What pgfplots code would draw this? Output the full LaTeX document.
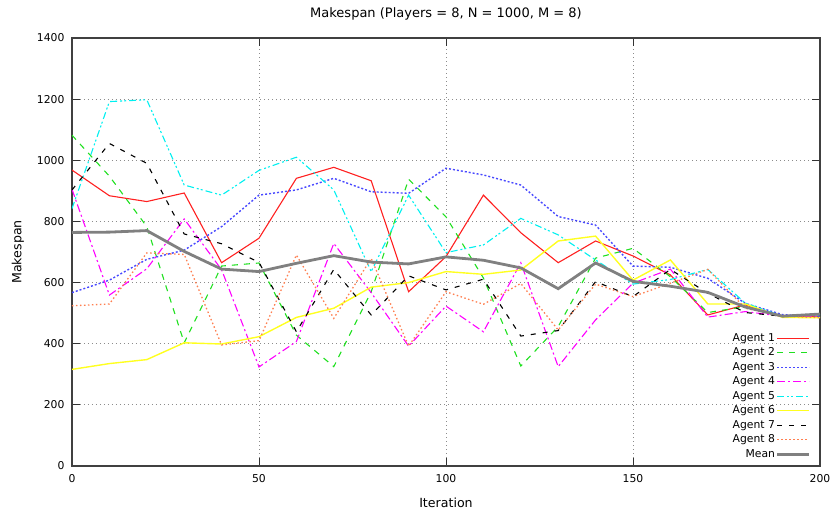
\documentclass[border=0pt]{standalone}
\usepackage{pgfplots}
\pgfplotsset{compat=1.18}
\usepackage{pgfplotstable}
\usepackage{fontspec}
\setmainfont{DejaVu Sans}
\usetikzlibrary{calc}
\definecolor{cA}{HTML}{FF2020}
\definecolor{cB}{HTML}{20E020}
\definecolor{cC}{HTML}{4848FF}
\definecolor{cD}{HTML}{FF00FF}
\definecolor{cE}{HTML}{00F0F0}
\definecolor{cF}{HTML}{FFFF20}
\definecolor{cG}{HTML}{000000}
\definecolor{cH}{HTML}{FF7F50}
\definecolor{cM}{HTML}{808080}
\definecolor{txt}{HTML}{202040}
\pgfplotstableread{
x a1 a2 a3 a4 a5 a6 a7 a8 mean
0 968 1082 567 905 842 316 903 524 764
10 884 948 608 559 1192 335 1055 530 765
20 865 783 676 645 1198 348 990 697 770
30 893 403 706 808 919 403 759 692 702
40 665 654 783 642 886 399 727 396 644
50 745 664 886 324 967 423 666 410 636
60 941 428 903 407 1010 486 439 690 663
70 977 325 941 728 903 516 643 483 688
80 933 570 897 567 636 585 494 679 667
90 570 938 892 392 886 600 622 392 661
100 685 815 974 523 698 636 576 570 684
110 886 615 952 439 723 627 611 529 673
120 763 327 919 665 810 641 425 597 648
130 665 456 816 325 756 736 443 445 580
140 736 680 788 478 674 752 603 595 664
150 687 712 654 598 595 608 554 554 604
160 625 619 650 644 610 674 643 598 588
170 494 502 614 487 643 530 565 643 568
180 527 521 532 505 533 530 502 516 520
190 488 490 495 490 490 486 490 490 490
200 490 490 490 490 495 485 495 485 497
}\data
\begin{document}
\begin{tikzpicture}[x=1pt,y=1pt]
\begin{axis}[
  scale only axis, width=748pt, height=428pt,
  xmin=0, xmax=200, ymin=0, ymax=1400,
  xtick={0,50,...,200}, ytick={0,200,...,1400},
  minor tick num=0,
  tick align=inside, major tick length=8pt,
  tick style={color=black!80, line width=0.9pt},
  axis line style={color=black!75, line width=1.2pt},
  grid=major, grid style={color=black!45, line width=0.8pt, dash pattern=on 1pt off 3pt},
  /pgf/number format/assume math mode=true,
  /pgf/number format/1000 sep={},
  ticklabel style={font=\fontsize{10.8}{12}\selectfont},
  yticklabel style={xshift=-4pt},
  xticklabel style={yshift=-5pt},
  title={Makespan (Players = 8, N = 1000, M = 8)},
  every axis title/.style={at={(axis description cs:0.5,1)}, yshift=24pt, anchor=center, font=\fontsize{13}{15}\selectfont},
  xlabel={Iteration}, ylabel={Makespan},
  every axis x label/.style={at={(axis description cs:0.5,0)}, yshift=-37pt, anchor=center, font=\fontsize{12.6}{14}\selectfont},
  every axis y label/.style={at={(axis description cs:0,0.5)}, xshift=-54pt, rotate=90, anchor=center, font=\fontsize{12.6}{14}\selectfont},
  legend plot pos=right,
  legend cell align=right,
  legend image code/.code={\draw[#1] (0pt,0pt) -- (32pt,0pt);},
  legend style={draw=none, fill=none, at={(rel axis cs:1,0)}, anchor=south east, xshift=-6pt, yshift=3pt,
    font=\fontsize{10.8}{12}\selectfont, row sep=1.5pt,
    nodes={inner sep=1pt, text height=8.5pt, text depth=2.5pt}},
  every axis plot/.append style={line width=1.1pt},
]
\addplot[color=cA] table[x=x,y=a1]{\data};
\addlegendentry{Agent 1}
\addplot[color=cB, dash pattern=on 6pt off 6pt] table[x=x,y=a2]{\data};
\addlegendentry{Agent 2}
\addplot[color=cC, dash pattern=on 2pt off 2pt, line width=1.4pt] table[x=x,y=a3]{\data};
\addlegendentry{Agent 3}
\addplot[color=cD, dash pattern=on 8pt off 3pt on 2pt off 3pt] table[x=x,y=a4]{\data};
\addlegendentry{Agent 4}
\addplot[color=cE, dash pattern=on 7pt off 3pt on 2pt off 2pt on 2pt off 3pt] table[x=x,y=a5]{\data};
\addlegendentry{Agent 5}
\addplot[color=cF, line width=1.4pt] table[x=x,y=a6]{\data};
\addlegendentry{Agent 6}
\addplot[color=cG, dash pattern=on 5pt off 7pt] table[x=x,y=a7]{\data};
\addlegendentry{Agent 7}
\addplot[color=cH, dash pattern=on 1.5pt off 2.5pt, line width=1.3pt] table[x=x,y=a8]{\data};
\addlegendentry{Agent 8}
\addplot[color=cM, line width=2.8pt] table[x=x,y=mean]{\data};
\addlegendentry{Mean}
\end{axis}
\pgfresetboundingbox
\path ($(current axis.south west)+(-72pt,-50pt)$) rectangle ($(current axis.north east)+(13pt,38pt)$);
\end{tikzpicture}
\end{document}
